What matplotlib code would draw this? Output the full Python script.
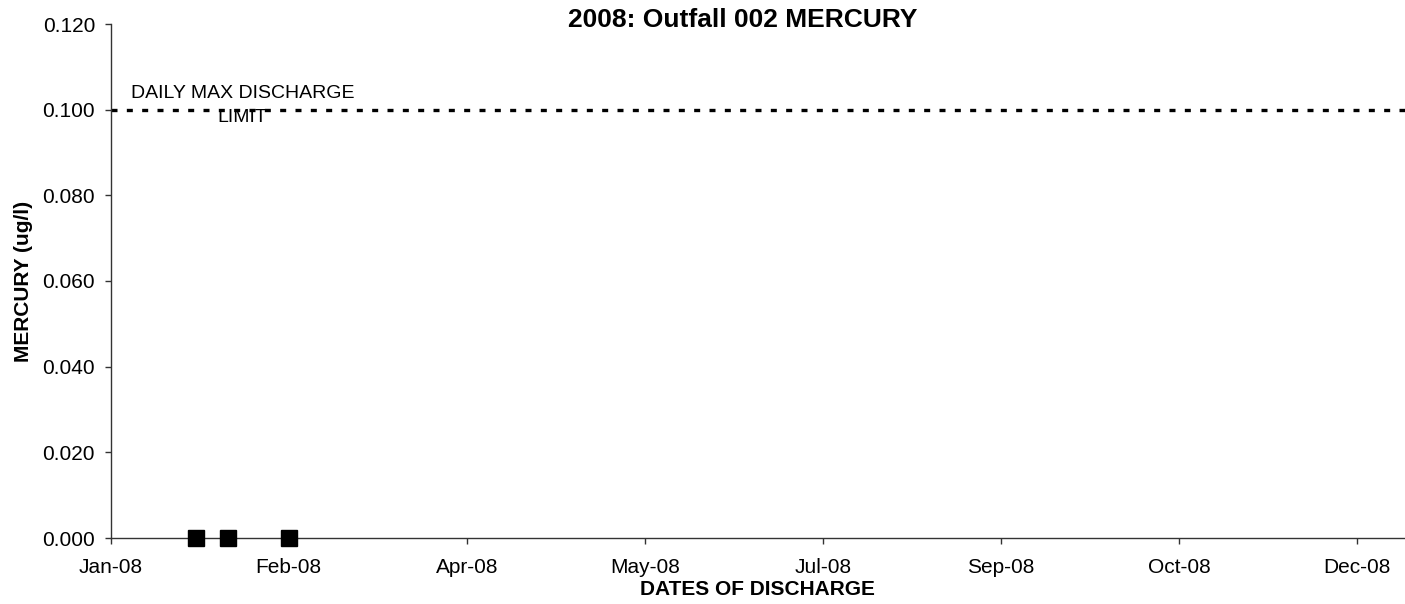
import datetime
import matplotlib
matplotlib.use("Agg")
import matplotlib.pyplot as plt
import matplotlib.dates as mdates
from matplotlib.ticker import FormatStrFormatter

plt.rcParams['font.family'] = ['Liberation Sans', 'DejaVu Sans']

# sample dates and results (all non-detect, plotted at zero)
sample_dates = [datetime.date(2008, 1, 25), datetime.date(2008, 2, 3), datetime.date(2008, 2, 20)]
mercury = [0.0, 0.0, 0.0]

daily_max_limit = 0.100

# excel-style date axis: 50 day major unit from Jan 1
tick_dates = [datetime.date(2008, 1, 1), datetime.date(2008, 2, 20), datetime.date(2008, 4, 10),
              datetime.date(2008, 5, 30), datetime.date(2008, 7, 19), datetime.date(2008, 9, 7),
              datetime.date(2008, 10, 27), datetime.date(2008, 12, 16)]
y_ticks = [0.0, 0.02, 0.04, 0.06, 0.08, 0.10, 0.12]

fig = plt.figure(figsize=(14.05, 6.04), dpi=100)
ax = fig.add_axes([110.7 / 1405, 1 - 538 / 604, 1 - 110.7 / 1405, (538 - 24) / 604])

x0 = mdates.date2num(datetime.date(2008, 1, 1))
ax.set_xlim(x0, x0 + 363.4)
ax.set_ylim(0, 0.12)

ax.axhline(daily_max_limit, color='black', lw=2.4, dashes=(1.8, 2.8), zorder=2)
ax.plot(sample_dates, mercury, ls='none', marker='s', ms=11, color='black',
        clip_on=False, zorder=5)

ax.text(datetime.date(2008, 2, 7), 0.1010, "DAILY MAX DISCHARGE\nLIMIT", ha='center', va='center',
        multialignment='center', fontsize=14, linespacing=1.55)

ax.set_xticks(tick_dates)
ax.xaxis.set_major_formatter(mdates.DateFormatter('%b-%y'))
ax.set_yticks(y_ticks)
ax.yaxis.set_major_formatter(FormatStrFormatter('%.3f'))

for s in ['top', 'right']:
    ax.spines[s].set_visible(False)
for s in ['left', 'bottom']:
    ax.spines[s].set_linewidth(1.0)
    ax.spines[s].set_color('#333333')

ax.tick_params(axis='both', direction='out', length=4.6, width=1.0, color='#333333', labelsize=15)
ax.tick_params(axis='y', pad=6.7)
ax.tick_params(axis='x', pad=10)

ax.set_xlabel("DATES OF DISCHARGE", fontsize=15, fontweight='bold', labelpad=2)
ax.set_ylabel("MERCURY (ug/l)", fontsize=15, fontweight='bold')
ax.yaxis.set_label_coords((33 - 110.7) / (1405 - 110.7), 0.5)

fig.text(743 / 1405, 1 - 27 / 604, "2008: Outfall 002 MERCURY", ha='center', va='baseline',
         fontsize=19, fontweight='bold')

fig.savefig("out.png", dpi=100)
